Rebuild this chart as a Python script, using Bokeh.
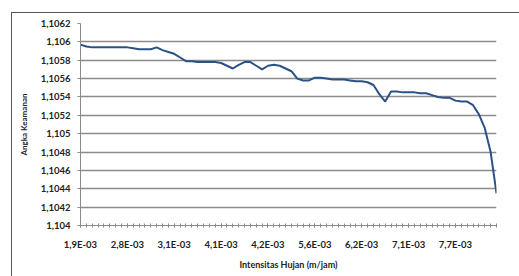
from bokeh.plotting import figure
from bokeh.models import Range1d, FixedTicker, ColumnDataSource
from bokeh.embed import file_html
from bokeh.resources import INLINE

# Category positions (index along the categorical x axis)
category_index = list(range(72))
# Angka Keamanan (safety factor)
safety_factor = [
    1.10597, 1.10595, 1.10594, 1.10594, 1.10594, 1.10594, 1.10594, 1.10594,
    1.10594, 1.10593, 1.10592, 1.10592, 1.10592, 1.10594, 1.10591, 1.10589,
    1.10587, 1.10583, 1.10579, 1.10579, 1.10578, 1.10578, 1.10578, 1.10578,
    1.10577, 1.10574, 1.10571, 1.10575, 1.10578, 1.10578, 1.10574, 1.10570,
    1.10574, 1.10575, 1.10574, 1.10571, 1.10568, 1.10560, 1.10558, 1.10558,
    1.10561, 1.10561, 1.10560, 1.10559, 1.10559, 1.10559, 1.10558, 1.10557,
    1.10557, 1.10556, 1.10553, 1.10543, 1.10535, 1.10546, 1.10546, 1.10545,
    1.10545, 1.10545, 1.10544, 1.10544, 1.10542, 1.10540, 1.10539, 1.10539,
    1.10536, 1.10535, 1.10535, 1.10531, 1.10521, 1.10506, 1.10480, 1.10435,
]
# x tick labels (every 8th category)
x_tick_positions = [0, 8, 16, 24, 32, 40, 48, 56, 64]
x_tick_labels = ["1,9E-03", "2,8E-03", "3,1E-03", "4,1E-03", "4,2E-03",
                 "5,6E-03", "6,2E-03", "7,1E-03", "7,7E-03"]
# y ticks
y_tick_values = [1.1040, 1.1042, 1.1044, 1.1046, 1.1048, 1.1050,
                 1.1052, 1.1054, 1.1056, 1.1058, 1.1060, 1.1062]
y_tick_labels = ["1,104", "1,1042", "1,1044", "1,1046", "1,1048", "1,105",
                 "1,1052", "1,1054", "1,1056", "1,1058", "1,106", "1,1062"]

FONT = "Lato"
TXT = "#222222"

border_css = """
:host { overflow: visible !important; }
:host::after {
  content: "";
  position: absolute;
  left: 11px; top: 12px; width: 2000px; height: 2000px;
  border-left: 1.5px solid #555555;
  border-top: 1.5px solid #555555;
  pointer-events: none;
}
"""

X_MIN, X_MAX = 0, 71
p = figure(width=515, height=272, output_backend="svg", toolbar_location=None,
           x_range=Range1d(X_MIN, X_MAX), y_range=Range1d(1.1040, 1.1062),
           min_border_left=80, min_border_right=19, min_border_top=23,
           min_border_bottom=42, stylesheets=[border_css])
p.outline_line_color = None
p.background_fill_color = "white"
p.border_fill_color = "white"

src = ColumnDataSource(dict(x=category_index, y=safety_factor))
p.line("x", "y", source=src, line_color="#2b5287", line_width=2)

# x axis
xticker = FixedTicker(ticks=x_tick_positions, minor_ticks=category_index)
xa = p.xaxis[0]
xa.ticker = xticker
xa.major_label_overrides = {t: l for t, l in zip(x_tick_positions, x_tick_labels)}
xa.axis_line_color = "#8a8a8a"
xa.major_tick_line_color = "#8a8a8a"
xa.minor_tick_line_color = "#8a8a8a"
xa.major_tick_in = 2
xa.major_tick_out = 2
xa.minor_tick_in = 2
xa.minor_tick_out = 2
xa.major_label_standoff = 11
xa.major_label_text_font = FONT
xa.major_label_text_font_size = "9.5px"
xa.major_label_text_font_style = "bold"
xa.major_label_text_color = TXT
xa.axis_label = "Intensitas Hujan (m/jam)"
xa.axis_label_text_font = FONT
xa.axis_label_text_font_size = "9px"
xa.axis_label_text_font_style = "bold"
xa.axis_label_text_color = TXT
xa.axis_label_standoff = 6

# y axis
yticker = FixedTicker(ticks=y_tick_values)
ya = p.yaxis[0]
ya.ticker = yticker
ya.major_label_overrides = {t: l for t, l in zip(y_tick_values, y_tick_labels)}
ya.axis_line_color = "#8a8a8a"
ya.major_tick_line_color = "#8a8a8a"
ya.major_tick_in = 0
ya.major_tick_out = 3
ya.minor_tick_line_color = None
ya.major_label_standoff = 7
ya.major_label_text_font = FONT
ya.major_label_text_font_size = "9.5px"
ya.major_label_text_font_style = "bold"
ya.major_label_text_color = TXT
ya.axis_label = "Angka Keamanan"
ya.axis_label_text_font = FONT
ya.axis_label_text_font_size = "8px"
ya.axis_label_text_font_style = "bold"
ya.axis_label_text_color = TXT
ya.axis_label_standoff = 9

# horizontal gridlines at the y ticks
p.xgrid.grid_line_color = None
p.ygrid.ticker = yticker
p.ygrid.grid_line_color = "#8c8c8c"
p.ygrid.grid_line_width = 1.5

open("out.html", "w").write(file_html(p, INLINE))
